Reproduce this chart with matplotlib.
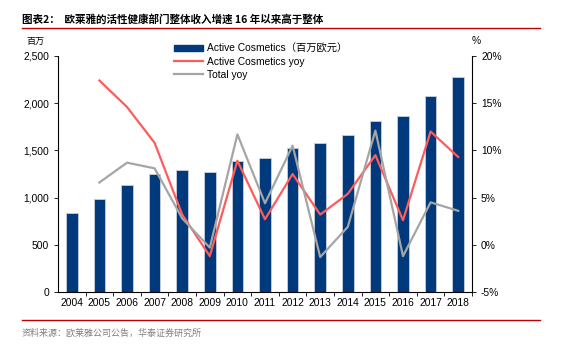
import matplotlib
matplotlib.use("Agg")
import matplotlib.pyplot as plt
from matplotlib.ticker import FuncFormatter, FixedLocator
from matplotlib.lines import Line2D

plt.rcParams['font.family'] = ['Liberation Sans', 'Noto Sans CJK SC', 'DejaVu Sans']

years = ["2004", "2005", "2006", "2007", "2008", "2009", "2010", "2011",
         "2012", "2013", "2014", "2015", "2016", "2017", "2018"]
revenue = [837, 985, 1133, 1250, 1292, 1270, 1387, 1419, 1525, 1578,
           1663, 1811, 1864, 2076, 2277]
active_yoy = [None, 17.4, 14.6, 10.8, 3.2, -1.2, 8.9, 2.7, 7.5, 3.2,
              5.4, 9.5, 2.6, 12.0, 9.3]
total_yoy = [None, 6.6, 8.7, 8.1, 2.8, -0.3, 11.7, 4.4, 10.5, -1.3,
             1.9, 12.1, -1.2, 4.5, 3.6]

navy = "#003A7D"
red = "#FF5B5B"
gray = "#A5A5A5"

fig = plt.figure(figsize=(5.61, 3.53), dpi=100)
ax = fig.add_axes([58 / 561, 1 - 292 / 353, (472 - 58) / 561, (292 - 56) / 353])

x = list(range(len(years)))
ax.bar(x, revenue, width=0.42, color=navy, edgecolor="#C8D0DC", linewidth=0.6,
       zorder=2)
ax.set_ylim(0, 2500)
ax.set_xlim(-0.5, len(years) - 0.5)
ax.set_yticks([0, 500, 1000, 1500, 2000, 2500])
ax.yaxis.set_major_formatter(FuncFormatter(lambda v, p: f"{int(v):,}"))
ax.set_xticks(x)
ax.set_xticklabels(years)
ax.xaxis.set_minor_locator(FixedLocator([i + 0.5 for i in x]))
ax.tick_params(axis="x", which="major", length=0, labelsize=7.4, pad=4)
ax.tick_params(axis="x", which="minor", length=3, width=0.6)
ax.tick_params(axis="y", labelsize=7.4, length=3, width=0.6)
for s in ["top", "right"]:
    ax.spines[s].set_visible(False)
ax.spines["left"].set_linewidth(0.8)
ax.spines["bottom"].set_linewidth(0.8)

ax2 = ax.twinx()
xs = x[1:]
ax2.plot(xs, active_yoy[1:], color=red, lw=1.6, zorder=3)
ax2.plot(xs, total_yoy[1:], color=gray, lw=1.6, zorder=3)
ax2.set_ylim(-5, 20)
ax2.set_yticks([-5, 0, 5, 10, 15, 20])
ax2.yaxis.set_major_formatter(FuncFormatter(lambda v, p: f"{int(v)}%"))
ax2.tick_params(axis="y", labelsize=7.4, length=3, width=0.6)
for s in ["top", "left", "bottom"]:
    ax2.spines[s].set_visible(False)
ax2.spines["right"].set_linewidth(0.8)

handles = [
    plt.Rectangle((0, 0), 1, 1, color=navy),
    Line2D([0], [0], color=red, lw=1.6),
    Line2D([0], [0], color=gray, lw=1.6),
]
labels = ["Active Cosmetics（百万欧元）", "Active Cosmetics yoy", "Total yoy"]
ax2.legend(handles, labels, loc="upper left", bbox_to_anchor=(0.27, 1.07),
           frameon=False, fontsize=7.4, handlelength=2.8, handleheight=0.6,
           handletextpad=0.4, labelspacing=0.3, borderaxespad=0)

fig.text(35 / 561, 1 - 41 / 353, "百万", fontsize=6.5, ha="center", va="center",
         family=['Noto Sans CJK SC'])
fig.text(476 / 561, 1 - 41 / 353, "%", fontsize=7.4, ha="center", va="center")

fig.text(22 / 561, 1 - 19 / 353, "图表2：  欧莱雅的活性健康部门整体收入增速 16 年以来高于整体",
         fontsize=7.6, fontweight="bold", ha="left", va="center",
         family=['Noto Sans CJK SC', 'DejaVu Sans'])
fig.add_artist(Line2D([22 / 561, 540 / 561], [1 - 28 / 353, 1 - 28 / 353],
                      color="#C00000", lw=1.0))
fig.add_artist(Line2D([22 / 561, 540 / 561], [1 - 320 / 353, 1 - 320 / 353],
                      color="#C00000", lw=1.0))
fig.text(22 / 561, 1 - 333 / 353, "资料来源：欧莱雅公司公告，华泰证券研究所",
         fontsize=6.5, color="#808080", ha="left", va="center",
         family=['Noto Sans CJK SC'])

fig.savefig("out.png", dpi=100)
